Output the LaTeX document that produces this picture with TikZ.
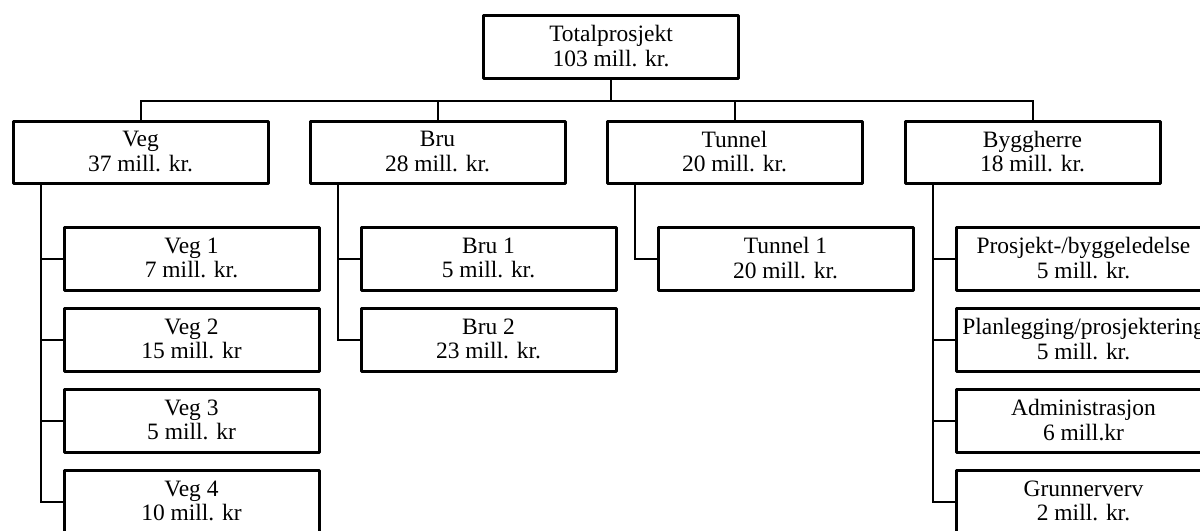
\documentclass[tikz,border=0pt]{standalone}
\usepackage{fontspec}
\setmainfont{Liberation Serif}
\usetikzlibrary{calc}
\begin{document}
\begin{tikzpicture}[x=0.75pt,y=-0.75pt,
  costbox/.style={draw,line width=2.25pt,line join=round,fill=white,
    minimum width=191.25pt,minimum height=47pt,inner sep=2pt,
    align=center,text depth=2pt,
    font=\fontsize{17.6pt}{18.4pt}\selectfont},
  link/.style={line width=1.5pt}]
\useasboundingbox (0,0) rectangle (1200,531);
\fill[white] (0,0) rectangle (1200,531);
\clip (0,0) rectangle (1200,531);

% top level
\node[costbox] (total) at (611,47) {Totalprosjekt\\103 mill. kr.};

% main posts
\node[costbox] (veg)    at (140.5,152.5) {Veg\\37 mill. kr.};
\node[costbox] (bru)    at (437.5,152.5) {Bru\\28 mill. kr.};
\node[costbox] (tunnel) at (734.5,152.5) {Tunnel\\20 mill. kr.};
\node[costbox] (bygg)   at (1032.5,152.5) {Byggherre\\18 mill. kr.};

% sub posts
\node[costbox] (veg1) at (191.5,259) {Veg 1\\7 mill. kr.};
\node[costbox] (veg2) at (191.5,340) {Veg 2\\15 mill. kr};
\node[costbox] (veg3) at (191.5,421) {Veg 3\\5 mill. kr};
\node[costbox] (veg4) at (191.5,502) {Veg 4\\10 mill. kr};

\node[costbox] (bru1) at (488.5,259) {Bru 1\\5 mill. kr.};
\node[costbox] (bru2) at (488.5,340) {Bru 2\\23 mill. kr.};

\node[costbox] (tun1) at (785.5,259) {Tunnel 1\\20 mill. kr.};

\node[costbox] (bh1) at (1083.5,259) {Prosjekt-/byggeledelse\\5 mill. kr.};
\node[costbox] (bh2) at (1083.5,340) {Planlegging/prosjektering\\5 mill. kr.};
\node[costbox] (bh3) at (1083.5,421) {Administrasjon\\6 mill.kr};
\node[costbox] (bh4) at (1083.5,502) {Grunnerverv\\2 mill. kr.};

% bus under the top box
\coordinate (bus) at ($(total.south)+(0,21)$);
\draw[link] (total.south) -- (total.south |- bus);
\draw[link] (veg.north) -- (veg.north |- bus) -- (bygg.north |- bus) -- (bygg.north);
\foreach \p in {bru,tunnel}
  \draw[link] (\p.north) -- (\p.north |- bus);

% stems from each main post to its sub posts
\foreach \p/\last/\others in {veg/veg4/{veg1,veg2,veg3},
                               bru/bru2/{bru1},
                               tunnel/tun1/{},
                               bygg/bh4/{bh1,bh2,bh3}} {
  \coordinate (\p-stem) at ($(\p.south west)+(29.5,0)$);
  \draw[link] (\p-stem) |- (\last.west);
  \foreach \c in \others
    \draw[link] (\c.west) -- (\c.west -| \p-stem);
}
\end{tikzpicture}
\end{document}
